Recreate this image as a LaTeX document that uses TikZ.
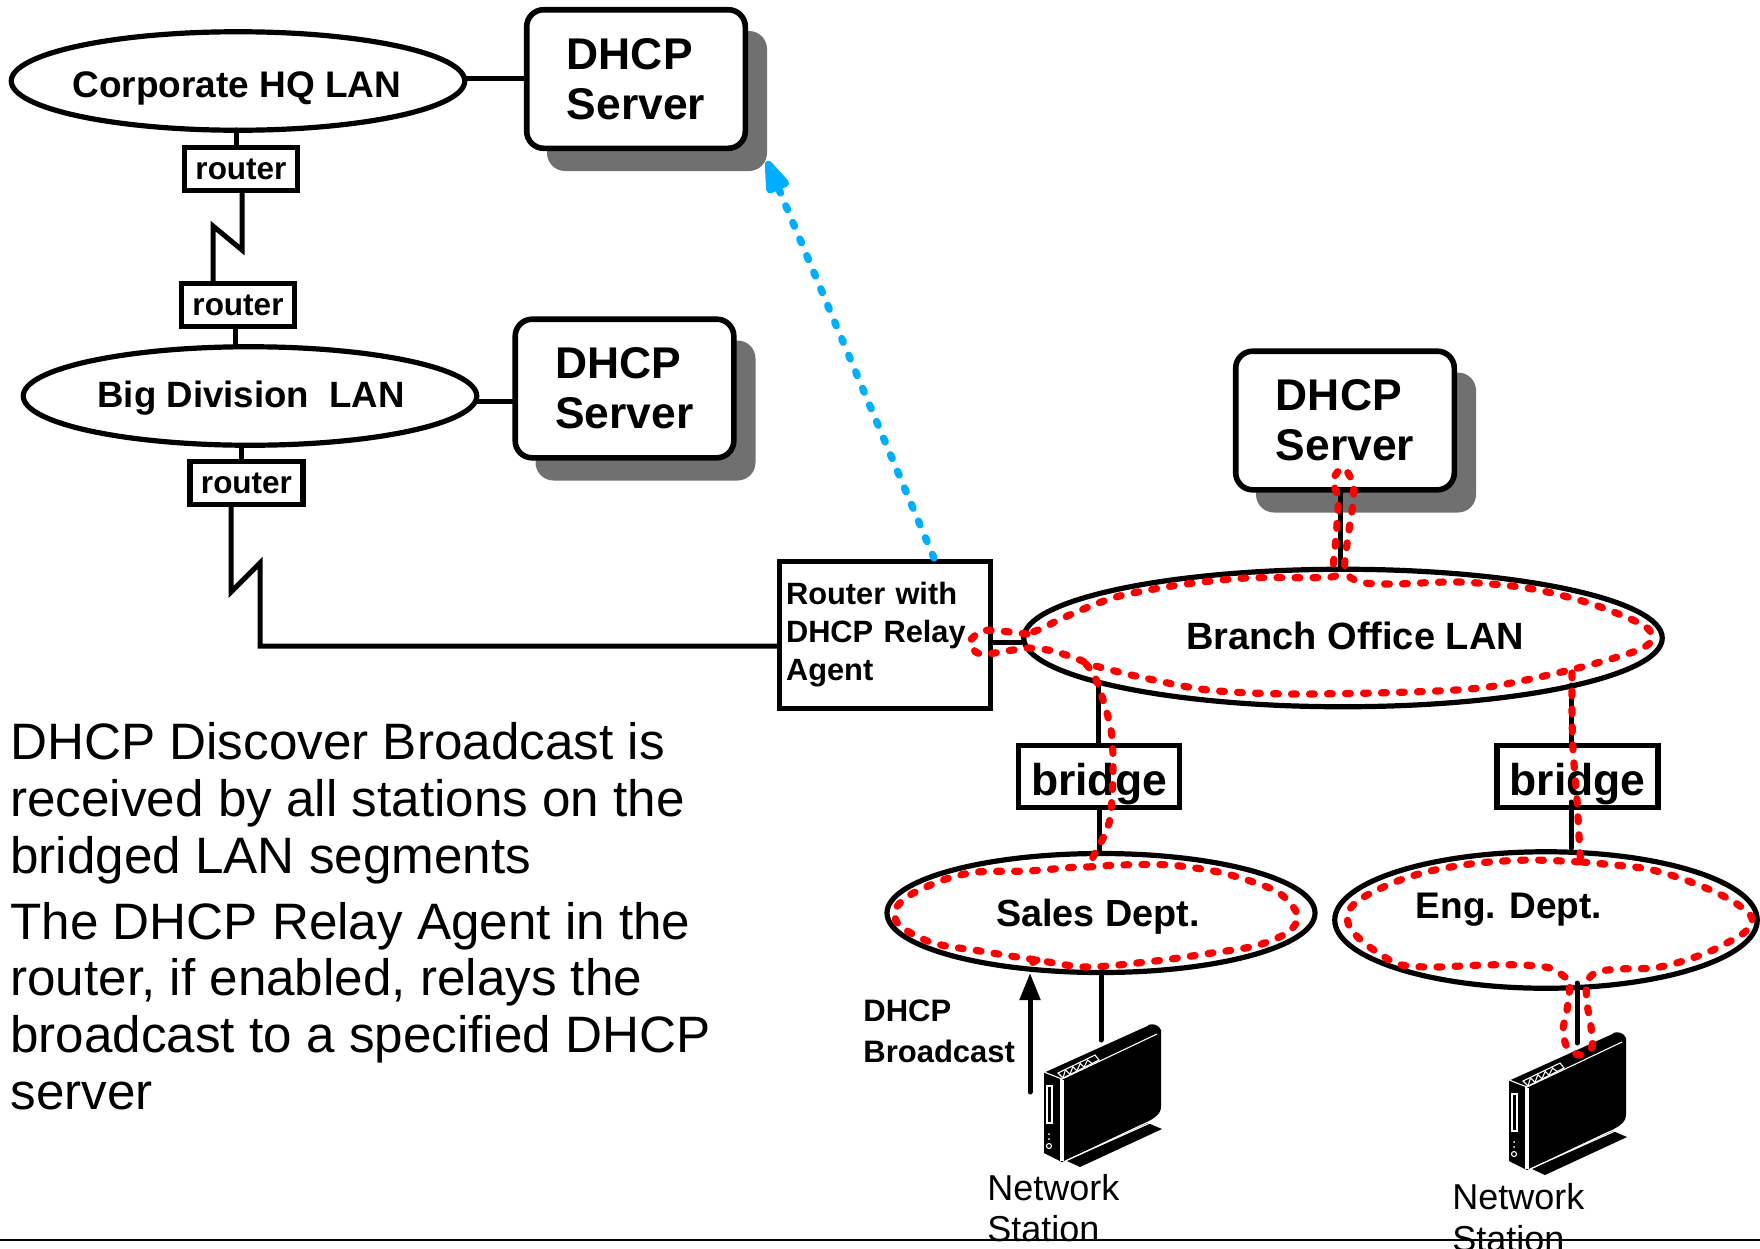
\documentclass[tikz,border=0pt]{standalone}
\usepackage{fontspec}
\setmainfont{Liberation Sans}
\usetikzlibrary{arrows.meta,shapes.geometric}
\definecolor{shadowgrey}{HTML}{707070}
\definecolor{relayblue}{HTML}{00AEFF}
\newcommand{\fs}[2]{\fontsize{#1pt}{#2pt}\selectfont}
\tikzset{
  lan/.style={ellipse,draw,line width=2.6pt,fill=white,inner sep=0pt},
  lantext/.style={inner sep=0pt,font=\bfseries\fs{18.5}{22}},
  routerbox/.style={rectangle,draw,line width=2.6pt,fill=white,inner sep=0pt,minimum width=56.5pt,minimum height=21.5pt,font=\bfseries\fs{15.75}{18}},
  bridgebox/.style={rectangle,draw,line width=2.6pt,fill=white,inner sep=0pt,minimum width=80.5pt,minimum height=31pt,text height=22pt,text depth=2.8pt,font=\bfseries\fs{22.25}{25}},
  serverbox/.style={rectangle,rounded corners=8.5pt,draw,line width=2.8pt,fill=white,inner sep=0pt,minimum width=109.3pt,minimum height=69.3pt,align=left,font=\bfseries\fs{22.2}{25.2}},
  servershadow/.style={rectangle,rounded corners=9pt,fill=shadowgrey,inner sep=0pt,minimum width=110pt,minimum height=70pt},
  relaybox/.style={rectangle,draw,line width=2.5pt,fill=white,inner xsep=3.25pt,inner ysep=0pt,text width=99pt,minimum height=73.5pt,align=left,font=\bfseries\fs{15.4}{19.2}},
  link/.style={line width=2.5pt,line cap=round,line join=miter},
  reddots/.style={draw=red,line width=3.6pt,line cap=round,dash pattern=on 2.4pt off 6.6pt},
  bluedots/.style={draw=relayblue,line width=3.7pt,line cap=round,dash pattern=on 2pt off 7pt},
  bodytext/.style={anchor=base west,inner sep=0pt,align=left,font=\fs{25.6}{28.3}},
  smalltext/.style={anchor=base west,inner sep=0pt,align=left,font=\bfseries\fs{15.5}{20.5}},
  stationtext/.style={anchor=base west,inner sep=0pt,align=left,font=\fs{18}{20.75}},
  station/.pic={
    \fill[black] (104,51) -- (118,57) -- (36,95) -- (23,89) -- cycle;
    \fill[black] (0,0) -- (104,-47) .. controls (109,-49) and (115,-47) .. (117,-42) -- (117,35)
      .. controls (117,43) and (108,48) .. (96,53) -- (18,90) -- (0,81) -- cycle;
    \begin{scope}[draw=white,line width=.55pt]
      \draw (1,-.5) -- (104,-47);
      \draw (0,0) -- (18,7) -- (113,-38);
      \draw (17,7) -- (17,89);
      \draw (19,8) -- (19,89);
      \draw (21,89) -- (106,51);
      \draw (3,14) rectangle (8,51);
      \draw (5,74) circle (2.5);
      \fill[white] (5,62) circle (1);
      \fill[white] (5,67) circle (1);
      \draw (14,1) -- (51,-17) -- (55,-12) -- (19,6) -- cycle;
      \draw (19,6) -- (21.4,-2.2) -- (26,2.4) -- (28.8,-5.4) -- (33,-1.2) -- (36.2,-8.6) -- (40,-4.8) -- (43.6,-12) -- (48,-8.5);
    \end{scope}
  }
}
\begin{document}
\begin{tikzpicture}[x=0.5pt,y=-0.5pt]
\useasboundingbox (0,0) rectangle (1760,1248);
% shadows
\node[servershadow] (shadowA) at (657,101) {};
\node[servershadow] (shadowB) at (645.5,410.5) {};
\node[servershadow] (shadowC) at (1366,442.5) {};
% servers
\node[serverbox] (srvA) at (636,79) {DHCP\\Server};
\node[serverbox] (srvB) at (624.5,388.5) {DHCP\\Server};
\node[serverbox] (srvC) at (1345,420.5) {DHCP\\Server};
% LANs
\node[lan,minimum width=226.75pt,minimum height=49.25pt] (hq) at (238,81) {};
\node[lantext] (hqT) at (237,88) {Corporate HQ LAN};
\node[lan,minimum width=226.75pt,minimum height=49.25pt] (big) at (250,396) {};
\node[lantext,font=\bfseries\fs{18.3}{22}] (bigT) at (251,398) {Big Division\ \ LAN};
\node[lan,minimum width=319.25pt,minimum height=68.75pt] (branch) at (1343,638) {};
\node[lantext,font=\bfseries\fs{19}{22}] (branchT) at (1355,636) {Branch Office LAN};
\node[lan,minimum width=214pt,minimum height=59.5pt] (sales) at (1101,913) {};
\node[lantext,font=\bfseries\fs{18.9}{22}] (salesT) at (1098,917) {Sales Dept.};
\node[lan,minimum width=211.25pt,minimum height=68.25pt] (eng) at (1546,920) {};
\node[lantext] (engT) at (1509,910) {Eng. Dept.};
% routers and bridges
\node[routerbox] (rA) at (241,169) {router};
\node[routerbox] (rB) at (238,305) {router};
\node[routerbox] (rC) at (246.5,483) {router};
\node[relaybox] (relay) at (885,634.5) {Router with\\DHCP Relay\\Agent};
\node[bridgebox] (brA) at (1099,776.5) {bridge};
\node[bridgebox] (brB) at (1577.5,776.5) {bridge};
% stations
\pic (stA) at (1044,1072) {station};
\pic (stB) at (1509,1080) {station};
% named free ends
\coordinate (hqE) at (465,78);
\coordinate (hqS) at (236,130);
\coordinate (zA1) at (242,250);
\coordinate (zA2) at (213,226);
\coordinate (zA3) at (213,283);
\coordinate (rBS) at (235,327);
\coordinate (bigE) at (477,401);
\coordinate (rCN) at (241,461);
\coordinate (zC1) at (231,592);
\coordinate (zC2) at (260,563);
\coordinate (zC3) at (260,646);
\coordinate (relayE) at (991,642);
\coordinate (brLineA) at (1098,682);
\coordinate (brLineB) at (1571,685);
\coordinate (brLineC) at (1571,802);
\coordinate (salesLineB) at (1571,848);
\coordinate (stLineA) at (1101,1040);
\coordinate (stLineB) at (1577,1043);
\coordinate (engLine) at (1577,983);
\coordinate (srvLine) at (1340,569);
\coordinate (arrowFoot) at (1030,1092);
\coordinate (arrowTip) at (1030,973);
\coordinate (blueFoot) at (934,558);
\coordinate (blueTip) at (767,161);
\coordinate (ruleL) at (0,1240);
\coordinate (ruleR) at (1760,1240);
% connectors
\draw[link] (hqE) -- (hqE -| srvA.west);
\draw[link] (hqS) -- (hqS |- rA.north);
\draw[link] (rA.south -| zA1) -- (zA1) -- (zA2) -- (zA3);
\draw[link] (rBS) -- (rBS |- big.north);
\draw[link] (bigE) -- (bigE -| srvB.west);
\draw[link] (big.south -| rCN) -- (rCN);
\draw[link] (rC.south -| zC1) -- (zC1) -- (zC2) -- (zC3) -- (zC3 -| relay.west);
\draw[link] (relayE) -- (relayE -| branch.west);
\draw[link] (srvLine |- srvC.south) -- (srvLine);
\draw[link] (brLineA) -- (brLineA |- brA.north);
\draw[link] (brA.south) -- (brA.south |- sales.north);
\draw[link] (brLineB) -- (brLineB |- brB.north);
\draw[link] (brLineC) -- (salesLineB);
\draw[link] (sales.south) -- (stLineA);
\draw[link] (engLine) -- (stLineB);
\draw[link,-{Triangle[length=13.5pt,width=10pt]}] (arrowFoot) -- (arrowTip);
% blue relay path
\draw[bluedots,-{Triangle[length=20pt,width=12.5pt,round]}] (blueFoot) -- (blueTip);
% red broadcast paths
\draw[reddots] plot[smooth,tension=.5] coordinates {(1027,634)(1000,631)(982,631)(970,642)(980,654)(1013,650)(1028,648)(1053,651)(1080,660)(1092,665)(1140,677)(1208,690)(1290,694)(1410,692)(1488,687)(1570,670)(1633,652)(1652,640)(1643,625)(1589,603)(1527,588)(1459,582)(1394,584)(1360,582)(1345,570)(1348,537)(1353,503)(1353,483)(1343,468)(1333,480)(1338,497)(1338,510)(1336,537)(1333,567)(1331,577)(1246,578)(1179,585)(1116,597)(1065,617)(1043,628)(1027,634)};
\draw[reddots] plot[smooth,tension=.5] coordinates {(1086,664)(1092,672)(1099,687)(1111,730)(1113,773)(1109,823)(1093,857)(1088,867)};
\draw[reddots] plot[smooth,tension=.5] coordinates {(1572,673)(1572,707)(1573,750)(1577,800)(1580,853)(1582,862)};
\draw[reddots] plot[smooth,tension=.5] coordinates {(1088,867)(1120,865)(1170,865)(1223,873)(1272,889)(1290,903)(1298,918)(1287,933)(1255,946)(1205,954)(1155,961)(1087,967)(1037,960)(1017,957)(980,951)(933,943)(900,926)(895,910)(910,895)(943,880)(977,872)(1027,871)(1077,867)(1088,867)};
\draw[reddots] plot[smooth,tension=.5] coordinates {(1037,960)(1028,966)(1028,972)};
\draw[reddots] plot[smooth,tension=.5] coordinates {(1582,862)(1615,865)(1648,869)(1680,878)(1715,892)(1737,904)(1752,918)(1745,932)(1713,950)(1680,962)(1653,968)(1620,969)(1597,972)(1587,982)(1587,1003)(1591,1027)(1592,1047)(1580,1055)(1567,1047)(1563,1030)(1567,1010)(1570,982)(1565,977)(1550,968)(1523,965)(1483,965)(1433,967)(1398,964)(1367,945)(1350,928)(1348,912)(1362,898)(1395,882)(1430,871)(1478,863)(1530,860)(1582,862)};
% text
\node[bodytext] (bodyA) at (10,873) {DHCP Discover Broadcast is\\received by all stations on the\\bridged LAN segments};
\node[bodytext] (bodyB) at (10,1109) {The DHCP Relay Agent in the\\router, if enabled, relays the\\broadcast to a specified DHCP\\server};
\node[smalltext] (bcast) at (863,1062) {DHCP\\Broadcast};
\node[stationtext] (nsA) at (987,1241.5) {Network\\Station};
\node[stationtext] (nsB) at (1452,1251) {Network\\Station};
\draw[line width=1.3pt] (ruleL) -- (ruleR);
\end{tikzpicture}
\end{document}
